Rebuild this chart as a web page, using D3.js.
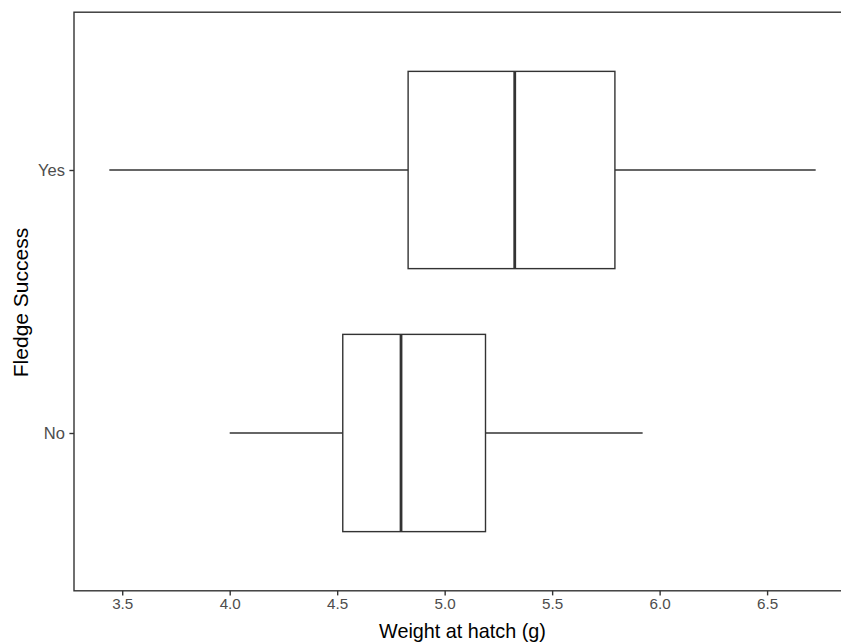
<!DOCTYPE html>
<html>
<head>
<meta charset="utf-8">
<script src="https://cdn.jsdelivr.net/npm/d3@7"></script>
<style>
  body { margin: 0; background: #fff; }
  svg { display: block; font-family: "Liberation Sans", Arial, sans-serif; }
</style>
</head>
<body>
<svg id="chart" width="841" height="642"></svg>
<script>
// categories bottom to top
var groups = ['No', 'Yes'];
// five-number summaries (g)
var whiskerLow = [4.00, 3.44];
var q1 = [4.526, 4.83];
var median = [4.797, 5.326];
var q3 = [5.19, 5.792];
var whiskerHigh = [5.921, 6.726];
var xTicks = [3.5, 4.0, 4.5, 5.0, 5.5, 6.0, 6.5];

var panelLeft = 74, panelTop = 12.2, panelRight = 851, panelBottom = 590.8;

var svg = d3.select('#chart');

var lo = d3.min(whiskerLow), hi = d3.max(whiskerHigh);
var pad = (hi - lo) * 0.05;
var x = d3.scaleLinear().domain([lo - pad, hi + pad]).range([panelLeft, panelRight]);

// discrete scale: positions 1..n, expanded by 0.6
var y = d3.scaleLinear().domain([0.4, groups.length + 0.6]).range([panelBottom, panelTop]);

var boxes = groups.map(function(g, i) {
    return { name: g, pos: i + 1, lo: whiskerLow[i], q1: q1[i], med: median[i], q3: q3[i], hi: whiskerHigh[i] };
});

var boxHalf = (y(1) - y(1.75)) / 2;
var lineCol = '#333333';

var g = svg.append('g');

// whiskers
g.selectAll('.whisk-lo')
    .data(boxes)
    .join('line')
    .attr('x1', d => x(d.lo))
    .attr('x2', d => x(d.q1))
    .attr('y1', d => y(d.pos))
    .attr('y2', d => y(d.pos))
    .attr('stroke', lineCol)
    .attr('stroke-width', 1.4);

g.selectAll('.whisk-hi')
    .data(boxes)
    .join('line')
    .attr('x1', d => x(d.q3))
    .attr('x2', d => x(d.hi))
    .attr('y1', d => y(d.pos))
    .attr('y2', d => y(d.pos))
    .attr('stroke', lineCol)
    .attr('stroke-width', 1.4);

g.selectAll('.box')
    .data(boxes)
    .join('rect')
    .attr('x', d => x(d.q1))
    .attr('width', d => x(d.q3) - x(d.q1))
    .attr('y', d => y(d.pos) - boxHalf)
    .attr('height', boxHalf * 2)
    .attr('fill', '#fff')
    .attr('stroke', lineCol)
    .attr('stroke-width', 1.4);

g.selectAll('.median')
    .data(boxes)
    .join('line')
    .attr('x1', d => x(d.med))
    .attr('x2', d => x(d.med))
    .attr('y1', d => y(d.pos) - boxHalf)
    .attr('y2', d => y(d.pos) + boxHalf)
    .attr('stroke', lineCol)
    .attr('stroke-width', 2.8);

// panel border
svg.append('rect')
    .attr('x', panelLeft)
    .attr('y', panelTop)
    .attr('width', panelRight - panelLeft)
    .attr('height', panelBottom - panelTop)
    .attr('fill', 'none')
    .attr('stroke', '#333333')
    .attr('stroke-width', 1.4);

// x axis
var xAxis = svg.append('g')
    .attr('transform', 'translate(0,' + panelBottom + ')')
    .call(d3.axisBottom(x).tickValues(xTicks).tickFormat(d3.format('.1f')).tickSize(4.6).tickPadding(3));
xAxis.select('.domain').remove();
xAxis.selectAll('line').attr('stroke', '#333333').attr('stroke-width', 1.4);
xAxis.selectAll('text')
    .attr('fill', '#4D4D4D')
    .style('font-size', '15.2px')
    .style('font-family', '"Liberation Sans", Arial, sans-serif');

// y axis
var yAxis = svg.append('g')
    .attr('transform', 'translate(' + panelLeft + ',0)')
    .call(d3.axisLeft(y).tickValues(boxes.map(d => d.pos)).tickFormat(d => groups[d - 1]).tickSize(4.6).tickPadding(4.5));
yAxis.select('.domain').remove();
yAxis.selectAll('line').attr('stroke', '#333333').attr('stroke-width', 1.4);
yAxis.selectAll('text')
    .attr('fill', '#4D4D4D')
    .style('font-size', '16.5px')
    .style('font-family', '"Liberation Sans", Arial, sans-serif');

// axis titles
svg.append('text')
    .attr('x', (panelLeft + panelRight) / 2)
    .attr('y', 638)
    .attr('text-anchor', 'middle')
    .attr('fill', '#000')
    .style('font-size', '19.8px')
    .text('Weight at hatch (g)');

svg.append('text')
    .attr('transform', 'translate(28,' + ((panelTop + panelBottom) / 2 + 1) + ') rotate(-90)')
    .attr('text-anchor', 'middle')
    .attr('fill', '#000')
    .style('font-size', '21px')
    .text('Fledge Success');
</script>
</body>
</html>
